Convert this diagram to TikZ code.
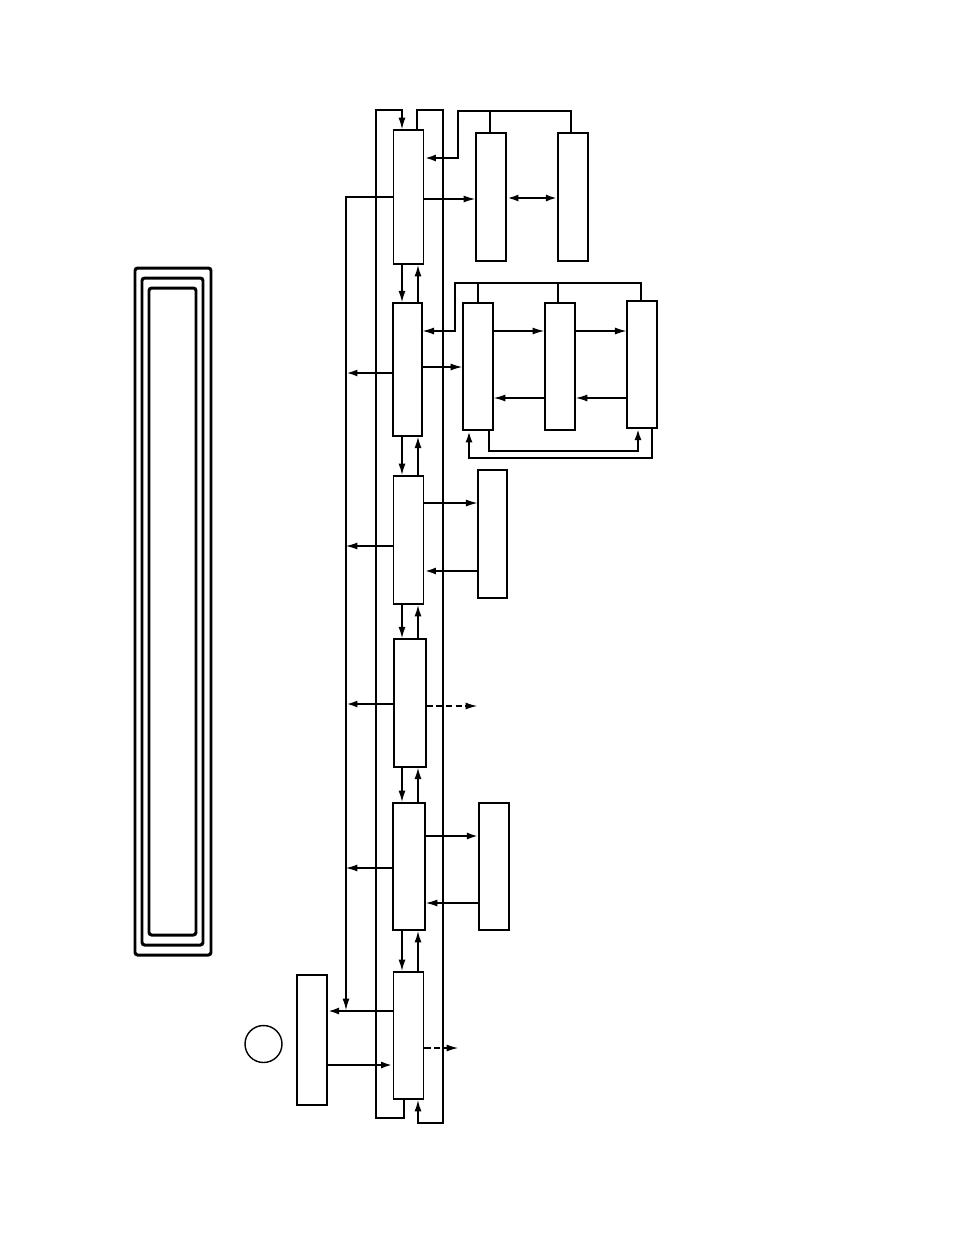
\documentclass[tikz,border=0pt]{standalone}
\usetikzlibrary{arrows.meta}

\tikzset{
  blk/.style={draw, line width=1.1pt, minimum width=0.6cm, minimum height=2.56cm, inner sep=0pt},
  blkthin/.style={blk, line width=0.7pt},
  tip/.style={-{Latex[length=6.5pt,width=4pt]}},
  thinarr/.style={tip, line width=0.6pt},
  midarr/.style={tip, line width=0.9pt},
  thickarr/.style={tip, line width=1.3pt},
  dblarr/.style={{Latex[length=6.5pt,width=4pt]}-{Latex[length=6.5pt,width=4pt]}, line width=1.3pt},
  dasharr/.style={thinarr, dash pattern=on 3.5pt off 2pt},
  thinwire/.style={line width=0.6pt},
  thickwire/.style={line width=1.3pt},
  frame/.style={line width=1.7pt, rounded corners=1.5pt}
}

\begin{document}
\begin{tikzpicture}[x=0.02cm, y=-0.02cm]
  \useasboundingbox (0,0) rectangle (954,1235);

  \def\xbus{346}
  \def\xdn{402}
  \def\xup{418}

  %nested frame
  \draw[frame] (135,268) rectangle (211,955);
  \draw[frame] (142,278) rectangle (203,945);
  \draw[frame] (149,288) rectangle (196,935);

  %main column
  \node[blk, minimum height=2.68cm] (m1) at (408.5,197) {};
  \node[blkthin, minimum width=0.58cm, minimum height=2.66cm] (m2) at (407.5,369.5) {};
  \node[blk] (m3) at (408.5,540) {};
  \node[blkthin, minimum width=0.64cm] (m4) at (410,703) {};
  \node[blk, minimum width=0.64cm, minimum height=2.54cm] (m5) at (409,866.5) {};
  \node[blk, minimum height=2.54cm] (m6) at (408.5,1035.5) {};

  %side blocks
  \node[blk] (r1a) at (491,197) {};
  \node[blkthin] (r1b) at (573,197) {};
  \node[blk, minimum height=2.54cm] (r2a) at (478,366.5) {};
  \node[blk, minimum height=2.54cm] (r2b) at (560,366.5) {};
  \node[blkthin, minimum height=2.54cm] (r2c) at (642,364.5) {};
  \node[blkthin, minimum width=0.58cm] (r3) at (492.5,534) {};
  \node[blkthin, minimum height=2.54cm] (r5) at (494,866.5) {};
  \node[blkthin, minimum height=2.6cm] (l6) at (312,1040) {};
  \node[draw, circle, line width=0.8pt, minimum size=0.74cm, inner sep=0pt] (c6) at (263.5,1044) {};

  \coordinate (o4) at (477,706);
  \coordinate (o6) at (458,1048);

  %links down and up the column
  \draw[midarr] (m1.south -| \xdn,0) -- (m2.north -| \xdn,0);
  \draw[midarr] (m2.north -| \xup,0) -- (m1.south -| \xup,0);
  \draw[midarr] (m2.south -| \xdn,0) -- (m3.north -| \xdn,0);
  \draw[midarr] (m3.north -| \xup,0) -- (m2.south -| \xup,0);
  \draw[midarr] (m3.south -| \xdn,0) -- (m4.north -| \xdn,0);
  \draw[midarr] (m4.north -| \xup,0) -- (m3.south -| \xup,0);
  \draw[midarr] (m4.south -| \xdn,0) -- (m5.north -| \xdn,0);
  \draw[midarr] (m5.north -| \xup,0) -- (m4.south -| \xup,0);
  \draw[midarr] (m5.south -| \xdn,0) -- (m6.north -| \xdn,0);
  \draw[midarr] (m6.north -| \xup,0) -- (m5.south -| \xup,0);

  %outer loops
  \draw[thinarr] (m6.south -| 404,0) -- (404,1118) -- (376,1118) -- (376,110) -- (\xdn,110) -- (m1.north -| \xdn,0);
  \draw[midarr] (m1.north -| 417,0) -- (417,110) -- (443,110) -- (443,1123) -- (\xup,1123) -- (m6.south -| \xup,0);

  %left bus
  \draw[thinarr] (m1.west) -- (m1.west -| \xbus,0) -- (\xbus,1010);
  \draw[thickarr] (m2.west |- 0,373) -- (\xbus,373);
  \draw[thinarr] (m3.west |- 0,546) -- (\xbus,546);
  \draw[thickarr] (m4.west |- 0,704) -- (\xbus,704);
  \draw[thinarr] (m5.west |- 0,868) -- (\xbus,868);

  %first block
  \draw[thinarr] (m1.east |- 0,199) -- (r1a.west |- 0,199);
  \draw[dblarr] (r1a.east |- 0,198) -- (r1b.west |- 0,198);
  \draw[thickwire] (r1a.north -| 490,0) -- (490,111);
  \draw[thickarr] (r1b.north -| 571,0) -- (571,111) -- (458,111) -- (458,158) -- (m1.east |- 0,158);

  %second block
  \draw[thinarr] (m2.east |- 0,367) -- (r2a.west |- 0,367);
  \draw[thinarr] (r2a.east |- 0,331) -- (r2b.west |- 0,331);
  \draw[thinarr] (r2b.east |- 0,331) -- (r2c.west |- 0,331);
  \draw[thinarr] (r2c.west |- 0,398) -- (r2b.east |- 0,398);
  \draw[thinarr] (r2b.west |- 0,398) -- (r2a.east |- 0,398);
  \draw[thickwire] (r2a.north) -- (r2a.north |- 0,283);
  \draw[thinwire] (r2b.north -| 558,0) -- (558,283);
  \draw[thinarr] (r2c.north -| 641,0) -- (641,283) -- (455,283) -- (455,331) -- (m2.east |- 0,331);
  \draw[thickwire] (r2c.north -| 641,0) -- (641,283);
  \draw[thickarr] (r2a.south -| 489,0) -- (489,451) -- (638,451) -- (r2c.south -| 638,0);
  \draw[thickarr] (r2c.south -| 652,0) -- (652,458) -- (469,458) -- (r2a.south -| 469,0);

  %third block
  \draw[thinarr] (m3.east |- 0,503) -- (r3.west |- 0,503);
  \draw[thickarr] (r3.west |- 0,571) -- (m3.east |- 0,571);

  %fourth block
  \draw[dasharr] (m4.east |- o4) -- (o4);

  %fifth block
  \draw[thickarr] (m5.east |- 0,836) -- (r5.west |- 0,836);
  \draw[thinarr] (r5.west |- 0,903) -- (m5.east |- 0,903);

  %sixth block
  \draw[thickarr] (m6.west |- 0,1011) -- (l6.east |- 0,1011);
  \draw[thickarr] (l6.east |- 0,1065) -- (m6.west |- 0,1065);
  \draw[dasharr] (m6.east |- o6) -- (o6);

\end{tikzpicture}
\end{document}
